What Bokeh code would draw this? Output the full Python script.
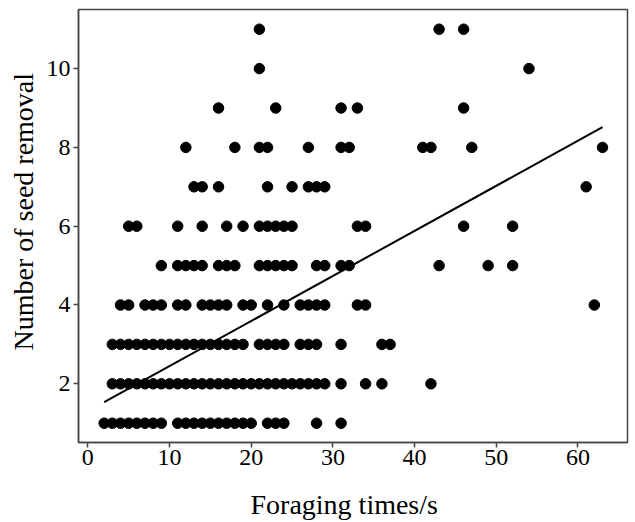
from bokeh.plotting import figure
from bokeh.models import Range1d, FixedTicker, Title
from bokeh.embed import file_html
from bokeh.resources import INLINE

# Foraging times (s) of observations, grouped by number of seeds removed
times_removal_1 = [2, 3, 4, 5, 6, 7, 8, 9, 11, 12, 13, 14, 15, 16, 17, 18, 19, 20, 22, 23, 24, 28, 31]
times_removal_2 = list(range(3, 30)) + [31, 34, 36, 42]
times_removal_3 = list(range(3, 20)) + [21, 22, 23, 24, 26, 27, 28, 31, 36, 37]
times_removal_4 = [4, 5, 7, 8, 9, 11, 12, 14, 15, 16, 17, 19, 20, 22, 24, 26, 27, 28, 29, 33, 34, 62]
times_removal_5 = [9, 11, 12, 13, 14, 16, 17, 18, 21, 22, 23, 24, 25, 28, 29, 31, 32, 43, 49, 52]
times_removal_6 = [5, 6, 11, 14, 17, 19, 21, 22, 23, 24, 25, 33, 34, 46, 52]
times_removal_7 = [13, 14, 16, 22, 25, 27, 28, 29, 61]
times_removal_8 = [12, 18, 21, 22, 27, 31, 32, 41, 42, 47, 63]
times_removal_9 = [16, 23, 31, 33, 46]
times_removal_10 = [21, 54]
times_removal_11 = [21, 43, 46]

removal_counts = [1, 2, 3, 4, 5, 6, 7, 8, 9, 10, 11]
groups = [times_removal_1, times_removal_2, times_removal_3, times_removal_4,
          times_removal_5, times_removal_6, times_removal_7, times_removal_8,
          times_removal_9, times_removal_10, times_removal_11]

# fitted regression line
fit_slope = 0.1144
fit_intercept = 1.305

x_ticks = [0, 10, 20, 30, 40, 50, 60]
y_ticks = [2, 4, 6, 8, 10]
x_title = "Foraging times/s"
y_title = "Number of seed removal"

xs, ys = [], []
for cnt, g in zip(removal_counts, groups):
    xs.extend(g)
    ys.extend([cnt] * len(g))

FONT = "Liberation Serif"
AXC = "#444444"

p = figure(width=635, height=522, output_backend="svg", toolbar_location=None,
           x_range=Range1d(-1.14, 66.06), y_range=Range1d(0.51, 11.5),
           min_border_left=78, min_border_right=8, min_border_top=9, min_border_bottom=80)

p.scatter(x=xs, y=ys, size=10.5, marker="circle", fill_color="black", line_color="black")

x0, x1 = min(xs), max(xs)
p.line(x=[x0, x1], y=[fit_intercept + fit_slope * x0, fit_intercept + fit_slope * x1],
       line_color="black", line_width=2)

p.xgrid.visible = False
p.ygrid.visible = False
p.background_fill_color = "white"
p.border_fill_color = "white"
p.outline_line_color = AXC
p.outline_line_width = 1.5

for ax, ticks in ((p.xaxis[0], x_ticks), (p.yaxis[0], y_ticks)):
    ax.ticker = FixedTicker(ticks=ticks)
    ax.minor_tick_line_color = None
    ax.major_tick_in = 0
    ax.major_tick_out = 5
    ax.major_tick_line_color = AXC
    ax.major_tick_line_width = 1.5
    ax.axis_line_color = AXC
    ax.axis_line_width = 1.5
    ax.major_label_text_font = FONT
    ax.major_label_text_font_size = "24px"
    ax.major_label_text_color = "black"

p.xaxis[0].major_label_standoff = 2
p.yaxis[0].major_label_standoff = 3

# spacer below the x tick labels (invisible)
p.xaxis[0].axis_label = "\u00a0"
p.xaxis[0].axis_label_text_font_size = "1px"
p.xaxis[0].axis_label_standoff = 14

p.add_layout(Title(text=x_title, align="left", offset=172, text_font=FONT,
                   text_font_size="28px", text_font_style="normal", text_color="black",
                   standoff=2), "below")
p.add_layout(Title(text=y_title, align="left", offset=92, text_font=FONT,
                   text_font_size="28px", text_font_style="normal", text_color="black",
                   standoff=10), "left")

open("out.html", "w").write(file_html(p, INLINE))
